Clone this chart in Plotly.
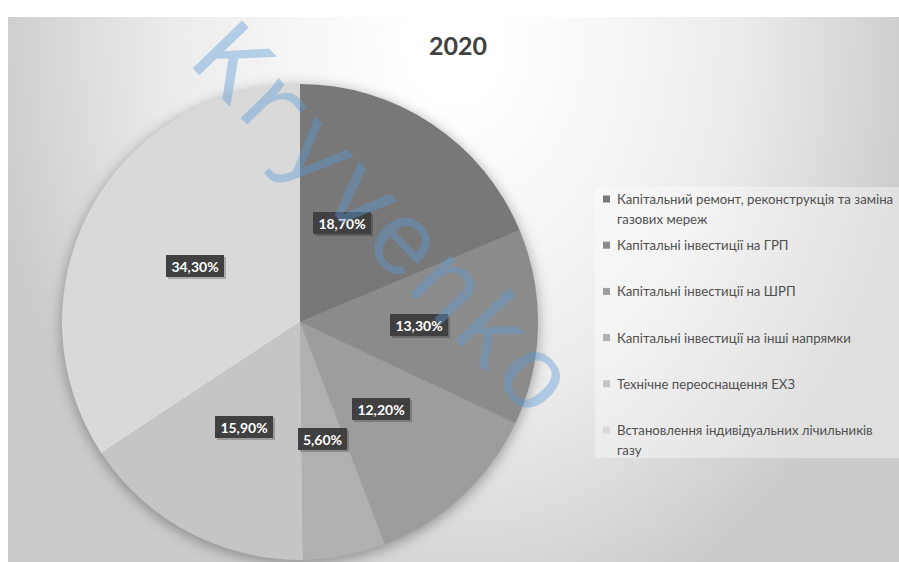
import base64
import math
import textwrap

import plotly.graph_objects as go

# ---- data -------------------------------------------------------------
year = "2020"
categories = [
    "Капітальний ремонт, реконструкція та заміна газових мереж",
    "Капітальні інвестиції на ГРП",
    "Капітальні інвестиції на ШРП",
    "Капітальні інвестиції на інші напрямки",
    "Технічне переоснащення ЕХЗ",
    "Встановлення індивідуальних лічильників газу",
]
shares = [18.7, 13.3, 12.2, 5.6, 15.9, 34.3]
slice_colors = ["#787878", "#8b8b8b", "#9d9d9d", "#b0b0b0", "#c5c5c5", "#d9d9d9"]
watermark = "Kryvenko"

# ---- geometry (pixels) ------------------------------------------------
W, H = 899, 562
cx, cy, r = 300, 322, 238          # pie centre and radius
label_radius = 0.5                 # data labels at half the radius
label_nudge_px = [-24, 0, 0, 0, 0, 0]
label_char_w, label_h = 8.6, 16    # label box text area
legend_box = (595, 187, W, 458)    # x0, y0, x1, y1
legend_first_y, legend_step, legend_line = 199, 46.2, 20
legend_text_x, legend_swatch_x, swatch = 616, 603, 7

FONT = "Lato"


def px(x):
    return x / W


def py(y):
    return 1 - y / H


# ---- background: radial gradient card with a soft pie shadow ----------
svg = f"""<svg xmlns="http://www.w3.org/2000/svg" width="{W}" height="{H}" viewBox="0 0 {W} {H}">
<defs>
<radialGradient id="bg" gradientUnits="userSpaceOnUse" cx="0" cy="0" r="1"
  gradientTransform="translate(455 40) scale(470 610)">
<stop offset="0.1" stop-color="#ffffff"/>
<stop offset="0.6" stop-color="#ececec"/>
<stop offset="1" stop-color="#cbcbcb"/>
</radialGradient>
<filter id="sh" x="-20%" y="-20%" width="140%" height="140%">
<feGaussianBlur stdDeviation="7"/>
</filter>
</defs>
<rect x="0" y="0" width="{W}" height="{H}" fill="#ffffff"/>
<rect x="8" y="17" width="{W - 8}" height="{H - 17}" fill="url(#bg)"/>
<circle cx="{cx}" cy="{cy + 3}" r="{r}" fill="#000" fill-opacity="0.35" filter="url(#sh)"/>
</svg>"""
bg_uri = "data:image/svg+xml;base64," + base64.b64encode(svg.encode("utf-8")).decode("ascii")

# ---- pie -----------------------------------------------------------------
fig = go.Figure(
    go.Pie(
        labels=categories,
        values=shares,
        sort=False,
        direction="clockwise",
        rotation=0,
        marker=dict(colors=slice_colors, line=dict(width=0)),
        textinfo="none",
        hoverinfo="skip",
        showlegend=False,
        domain=dict(x=[px(cx - r), px(cx + r)], y=[py(cy + r), py(cy - r)]),
    )
)

annotations = []
shapes = []

# data labels: dark boxes at the middle angle of every slice
total = sum(shares)
cum = 0.0
for i, v in enumerate(shares):
    ang = math.radians((cum + v / 2) / total * 360)
    cum += v
    lx = cx + label_radius * r * math.sin(ang) + label_nudge_px[i]
    ly = cy - label_radius * r * math.cos(ang)
    txt = f"{v:.2f}".replace(".", ",") + "%"
    common = dict(
        x=px(lx), y=py(ly), xref="paper", yref="paper",
        xanchor="center", yanchor="middle", showarrow=False,
        borderpad=3, borderwidth=0,
        width=round(label_char_w * len(txt)), height=label_h,
    )
    # soft drop shadow behind the box
    annotations.append(dict(
        text=" ", xshift=2, yshift=-2,
        font=dict(family=FONT, size=14, color="rgba(0,0,0,0)"),
        bgcolor="rgba(0,0,0,0.22)", **common,
    ))
    annotations.append(dict(
        text=f"<b>{txt}</b>",
        font=dict(family=FONT, size=14, color="#ffffff"),
        bgcolor="#404040", **common,
    ))

# legend panel
x0, y0, x1, y1 = legend_box
shapes.append(dict(
    type="rect", xref="paper", yref="paper",
    x0=px(x0), x1=px(x1), y0=py(y1), y1=py(y0),
    fillcolor="rgba(255,255,255,0.38)", line=dict(width=0), layer="below",
))
for i, (name, col) in enumerate(zip(categories, slice_colors)):
    yy = legend_first_y + i * legend_step
    shapes.append(dict(
        type="rect", xref="paper", yref="paper",
        x0=px(legend_swatch_x), x1=px(legend_swatch_x + swatch),
        y0=py(yy + swatch / 2), y1=py(yy - swatch / 2),
        fillcolor=col, line=dict(width=0),
    ))
    for j, line in enumerate(textwrap.wrap(name, 43)):
        annotations.append(dict(
            text=line, x=px(legend_text_x), y=py(yy + j * legend_line),
            xref="paper", yref="paper", xanchor="left", yanchor="middle",
            showarrow=False, borderpad=0,
            font=dict(family=FONT, size=13.2, color="#505050"),
        ))

# diagonal watermark over everything
annotations.append(dict(
    text=watermark, x=px(380), y=py(222), xref="paper", yref="paper",
    xanchor="center", yanchor="middle", showarrow=False, textangle=46,
    font=dict(family="Liberation Mono", size=104, color="rgba(91,155,213,0.42)"),
))

fig.update_layout(
    width=W, height=H,
    margin=dict(l=0, r=0, t=0, b=0),
    paper_bgcolor="#ffffff",
    plot_bgcolor="rgba(0,0,0,0)",
    title=dict(
        text=year, x=px(458), y=py(46), xanchor="center", yanchor="middle",
        xref="paper", yref="paper",
        font=dict(family=FONT, size=25, color="#404040", weight="bold"),
    ),
    images=[dict(
        source=bg_uri, xref="paper", yref="paper", x=0, y=1,
        sizex=1, sizey=1, xanchor="left", yanchor="top",
        sizing="stretch", layer="below",
    )],
    shapes=shapes,
    annotations=annotations,
)

fig.write_html("out.html")
